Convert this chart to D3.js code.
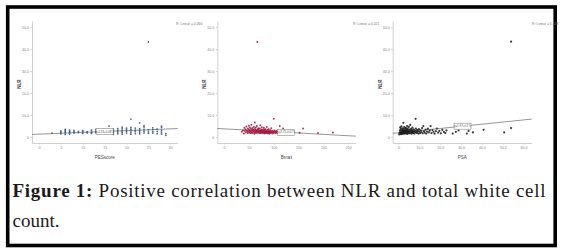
<html>
<head>
<meta charset="UTF-8">
<title>NLR scatter</title>
<style>
body { margin: 0; background: #fff; }
.axis path, .axis line { stroke: #c4c4c4; stroke-width: 0.8; }
.axis text { fill: #888; font-family: "Liberation Sans", sans-serif; font-size: 3.6px; }
</style>
</head>
<body>
<div id="chart"></div>
<script src="https://cdn.jsdelivr.net/npm/d3@7"></script>
<script>
// PES score vs NLR
var pesPoints = [
	[3,1.8],[5,1.5],[5,2.2],[5,2.8],[6,1.2],[6,2.0],[6,2.5],[6,3.0],[6,3.5],
	[7,1.4],[7,2.1],[7,2.6],[7,3.2],[8,1.8],[8,2.4],[8,3.0],[9,2.0],[9,2.6],
	[10,1.6],[10,2.3],[10,2.9],[11,1.9],[11,2.5],[12,1.7],[12,2.2],[12,3.1],
	[13,2.0],[13,2.7],[13,3.4],[14,1.8],[14,2.5],[15,2.1],[15,3.0],[16,2.4],[16,5.0],
	[17,1.2],[17,2.0],[17,2.8],[17,3.6],[18,1.5],[18,2.3],[18,3.0],[18,3.8],
	[19,1.4],[19,2.2],[19,2.9],[19,3.7],[19,4.5],[20,1.8],[20,2.6],[20,3.3],[20,4.0],
	[21,1.3],[21,2.1],[21,2.9],[21,3.6],[21,4.4],[21,8.2],[22,1.6],[22,2.5],[22,3.2],[22,4.1],
	[23,1.5],[23,2.3],[23,3.0],[23,3.8],[23,6.5],[24,1.9],[24,2.7],[24,3.5],[24,4.6],[24,5.2],
	[25,1.7],[25,2.4],[25,3.3],[25,43.3],[26,1.8],[26,2.5],[26,3.4],[26,4.2],
	[27,1.5],[27,2.6],[27,3.6],[28,1.4],[28,2.3],[28,3.2],[28,4.4],[28,5.0],[29,0.8],[29,1.6]
];
// Bmax vs NLR
var bmaxPoints = [
	[36,2.4],[38,3.1],[40,1.6],[41,4.2],[42,2.8],[43,3.6],[44,2.1],[45,4.8],[46,3.0],[47,2.5],
	[48,3.9],[48,1.9],[49,2.7],[50,3.4],[50,5.2],[51,2.2],[52,4.4],[52,3.0],[53,1.7],[53,2.6],
	[54,3.8],[55,2.3],[55,5.6],[56,3.2],[56,1.8],[57,2.9],[57,4.1],[58,2.0],[58,3.5],[59,2.6],
	[60,4.6],[60,3.1],[61,2.2],[61,1.5],[62,6.6],[62,3.7],[63,2.8],[63,2.1],[64,3.3],[64,4.3],
	[65,2.4],[65,1.9],[66,3.0],[66,5.0],[67,43.3],[67,2.6],[68,3.6],[68,2.0],[69,2.9],[69,4.0],
	[70,2.3],[70,3.2],[71,1.7],[71,2.7],[72,3.9],[72,2.2],[73,3.0],[73,5.4],[74,2.5],[74,1.8],
	[75,3.4],[75,2.1],[76,2.8],[76,4.5],[77,2.3],[77,3.1],[78,1.9],[78,2.6],[79,3.5],[79,2.0],
	[80,2.9],[80,4.2],[81,2.2],[81,1.6],[82,3.2],[82,2.5],[83,2.0],[83,3.7],[84,2.7],[84,1.8],
	[85,2.3],[85,3.0],[86,4.6],[86,2.1],[87,2.6],[87,1.7],[88,3.3],[88,2.2],[89,1.9],[89,2.8],
	[90,2.4],[90,3.6],[91,2.0],[91,1.5],[92,2.7],[93,2.2],[93,3.1],[94,1.8],[95,2.5],[95,4.0],
	[96,2.1],[97,2.9],[98,1.6],[99,2.4],[100,8.3],[100,2.0],[101,3.0],[102,2.3],[103,1.8],[104,2.6],
	[105,2.1],[106,2.9],[107,1.9],[108,2.4],[112,5.0],[119,3.9],[152,2.0],[159,3.9],[189,1.8],[219,2.1]
];
// PSA vs NLR
var psaPoints = [
	[0.3,1.2],[0.5,2.0],[0.6,3.1],[0.8,4.4],[0.9,1.6],[1.0,2.6],[1.1,3.7],[1.2,1.3],[1.3,2.2],[1.4,4.9],
	[1.5,3.0],[1.6,1.8],[1.7,2.5],[1.8,4.0],[1.9,1.4],[2.0,3.3],[2.1,2.0],[2.2,2.8],[2.3,6.5],[2.4,1.7],
	[2.5,3.6],[2.6,2.3],[2.7,4.5],[2.8,1.5],[2.9,3.0],[3.0,2.1],[3.1,2.7],[3.2,3.9],[3.3,1.8],[3.4,2.4],
	[3.5,4.2],[3.6,3.2],[3.7,1.6],[3.8,2.6],[3.9,3.5],[4.0,2.0],[4.1,5.0],[4.2,2.9],[4.3,1.4],[4.4,3.8],
	[4.5,2.3],[4.6,3.1],[4.8,1.9],[4.9,4.6],[5.0,2.6],[5.2,3.4],[5.3,1.7],[5.4,2.2],[5.6,5.5],[5.7,3.0],
	[5.8,2.0],[6.0,3.7],[6.1,2.5],[6.3,1.5],[6.4,3.2],[6.6,2.1],[6.7,4.3],[6.9,2.8],[7.0,1.8],[7.2,3.5],
	[7.4,2.4],[7.6,1.6],[7.8,3.0],[8.0,2.2],[8.2,8.3],[8.3,3.9],[8.5,2.6],[8.7,1.9],[8.9,3.3],[9.1,2.1],
	[9.4,2.9],[9.6,1.5],[9.8,3.6],[10.1,2.4],[10.4,1.8],[10.7,3.1],[11.0,2.3],[11.3,4.1],[11.6,1.7],[11.9,5.0],
	[12.2,2.7],[12.6,2.0],[13.0,3.4],[13.3,1.6],[13.7,2.5],[14.1,3.8],[14.5,2.1],[15.0,2.9],[15.4,5.0],[15.8,1.8],
	[16.3,3.2],[16.8,2.3],[17.3,1.5],[17.9,2.7],[18.4,3.9],[19.0,2.0],[19.6,2.8],[20.3,1.7],[21.0,3.3],[21.7,2.4],
	[22.4,1.9],[23.0,3.0],[26.0,1.6],[27.5,2.4],[28.8,3.0],[32.8,1.6],[33.6,2.8],[35.7,2.1],[40.8,3.3],[50.7,2.1],
	[54.0,4.1],[54.0,43.4]
];

var nlrTicks = [0, 10, 20, 30, 40, 50];
var pesTicks = [0, 5, 10, 15, 20, 25, 30];
var bmaxTicks = [0, 50, 100, 150, 200, 250];
var psaTicks = [0, 10, 20, 30, 40, 50, 60];
// intercept, slope of the linear fit
var pesFit = [1.33, 0.08];
var bmaxFit = [3.73, -0.0125];
var psaFit = [1.97, 0.097];
var r2Labels = ["R\u00b2 Linear = 0.066", "R\u00b2 Linear = 0.021", "R\u00b2 Linear = 0.028"];
var fitLabels = ["y=1.33+0.08*x", "y=3.73-0.01*x", "y=1.97+0.1*x"];

window.onload = function() {
	var width = 564, height = 249;
	var svg = d3.select("#chart").append("svg")
		.attr("width", width).attr("height", height);

	// black frame
	svg.append("rect")
		.attr("x", 7.7).attr("y", 7).attr("width", 547.5).attr("height", 238.5)
		.attr("fill", "none").attr("stroke", "#000").attr("stroke-width", 3.6);

	var panels = [
		{ pts: pesPoints, xr: [32, 177.7], xd: [-1.6, 31.7], ticks: pesTicks, fmt: function(d) { return d; },
		  title: "PESscore", fit: pesFit, boxAt: 15, color: "#2d4d72", r: 0.9, r2x: 176 },
		{ pts: bmaxPoints, xr: [217.3, 355.7], xd: [-13.5, 264.8], ticks: bmaxTicks, fmt: function(d) { return d; },
		  title: "Bmax", fit: bmaxFit, boxAt: 125, color: "#a3173e", r: 1.0, r2x: 353 },
		{ pts: psaPoints, xr: [392.7, 531.7], xd: [-2.8, 63.9], ticks: psaTicks, fmt: function(d) { return d ? d.toFixed(1) : "0"; },
		  title: "PSA", fit: psaFit, boxAt: 30.7, color: "#1a1a1a", r: 1.1, r2x: 532 }
	];

	var yScale = d3.scaleLinear().domain([-2.7, 52.8]).range([143, 21]);

	panels.forEach(function(p, i) {
		var g = svg.append("g");
		var xScale = d3.scaleLinear().domain(p.xd).range(p.xr);

		// axes
		g.append("g").attr("class", "axis")
			.attr("transform", "translate(0," + 143 + ")")
			.call(d3.axisBottom(xScale).tickValues(p.ticks).tickFormat(p.fmt).tickSize(1.5).tickSizeOuter(0).tickPadding(1.5));
		g.append("g").attr("class", "axis")
			.attr("transform", "translate(" + p.xr[0] + ",0)")
			.call(d3.axisLeft(yScale).tickValues(nlrTicks).tickFormat(function(d) { return d ? d.toFixed(1) : "0"; })
				.tickSize(1.5).tickSizeOuter(0).tickPadding(1.5));

		// fit line
		var f = function(x) { return p.fit[0] + p.fit[1] * x; };
		g.append("line")
			.attr("x1", xScale(p.xd[0])).attr("y1", yScale(f(p.xd[0])))
			.attr("x2", xScale(p.xd[1])).attr("y2", yScale(f(p.xd[1])))
			.attr("stroke", "#8a8a8a").attr("stroke-width", 0.9);

		// points
		g.selectAll(".dot" + i)
			.data(p.pts)
			.enter().append("circle")
			.attr("class", "dot" + i)
			.attr("cx", function(d) { return xScale(d[0]); })
			.attr("cy", function(d) { return yScale(d[1]); })
			.attr("r", p.r)
			.attr("fill", p.color)
			.attr("fill-opacity", 0.85);

		// equation box
		var bx = xScale(p.boxAt), by = yScale(f(p.boxAt));
		g.append("rect")
			.attr("x", bx - 8.5).attr("y", by - 3).attr("width", 17).attr("height", 6)
			.attr("fill", "#fff").attr("stroke", "#888").attr("stroke-width", 0.6);
		g.append("text")
			.attr("x", bx).attr("y", by + 1.1)
			.attr("text-anchor", "middle")
			.attr("font-family", "Liberation Sans, sans-serif")
			.attr("font-size", "2.9px").attr("fill", "#555")
			.text(fitLabels[i]);

		// titles
		g.append("text")
			.attr("x", (p.xr[0] + p.xr[1]) / 2).attr("y", 158.5)
			.attr("text-anchor", "middle")
			.attr("font-family", "Liberation Sans, sans-serif")
			.attr("font-size", "4.5px").attr("fill", "#444")
			.text(p.title);
		g.append("text")
			.attr("transform", "translate(" + (p.xr[0] - 11) + ",84) rotate(-90)")
			.attr("text-anchor", "middle")
			.attr("font-family", "Liberation Sans, sans-serif")
			.attr("font-size", "4.5px").attr("font-weight", "bold").attr("fill", "#444")
			.text("NLR");
		g.append("text")
			.attr("x", p.r2x).attr("y", 24.5)
			.attr("font-family", "Liberation Sans, sans-serif")
			.attr("font-size", "3.4px").attr("fill", "#777")
			.text(r2Labels[i]);
	});

	// caption
	var cap = svg.append("text")
		.attr("x", 12.5).attr("y", 197)
		.attr("font-family", "Liberation Serif, serif")
		.attr("font-size", "19px").attr("fill", "#1a1a1a")
		.attr("textLength", 533).attr("lengthAdjust", "spacing");
	cap.append("tspan").attr("font-weight", "bold").text("Figure 1:");
	cap.append("tspan").text(" Positive correlation between NLR and total white cell");
	svg.append("text")
		.attr("x", 12.5).attr("y", 227)
		.attr("font-family", "Liberation Serif, serif")
		.attr("font-size", "19px").attr("fill", "#1a1a1a")
		.text("count.");
};
</script>
</body>
</html>
